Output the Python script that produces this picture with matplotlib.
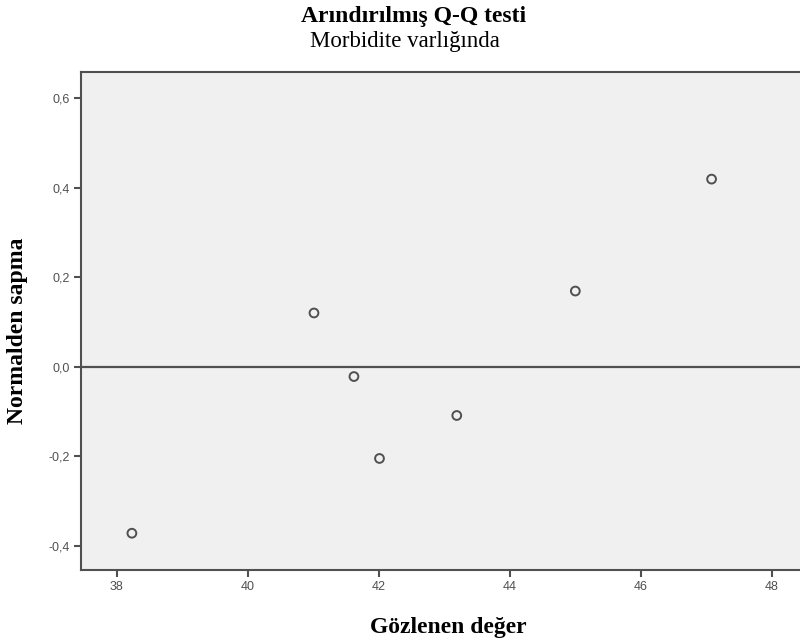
import matplotlib.pyplot as plt

# Gözlenen değer vs Normalden sapma
observed = [38.23, 41.01, 41.62, 42.01, 43.19, 45.0, 47.08]
deviation = [-0.372, 0.120, -0.022, -0.205, -0.109, 0.169, 0.419]
x_ticks = [38, 40, 42, 44, 46, 48]
y_ticks = [-0.4, -0.2, 0.0, 0.2, 0.4, 0.6]

serif = ['Liberation Serif', 'DejaVu Serif']
narrow = ['Liberation Sans Narrow', 'Liberation Sans', 'DejaVu Sans']
dark = '#505050'

fig = plt.figure(figsize=(8, 6.44), dpi=100)
ax = fig.add_axes([0.101, 0.115, 0.899, 0.773])
ax.set_facecolor('#f0f0f0')

ax.axhline(0, color=dark, linewidth=1.6, zorder=1)
ax.scatter(observed, deviation, s=40, facecolors='none', edgecolors=dark,
           linewidths=1.4, zorder=2)

ax.set_xlim(37.45, 48.43)
ax.set_ylim(-0.454, 0.658)
ax.set_xticks(x_ticks)
ax.set_yticks(y_ticks)
ax.set_yticklabels([('%.1f' % v).replace('.', ',') for v in y_ticks])
ax.set_xticklabels([str(v) for v in x_ticks])
ax.tick_params(axis='both', direction='out', length=5, width=1.5,
               color=dark, labelcolor=dark, labelsize=9, pad=3)
for lab in ax.get_xticklabels() + ax.get_yticklabels():
    lab.set_family(narrow)

for side in ['left', 'bottom', 'top']:
    ax.spines[side].set_color(dark)
    ax.spines[side].set_linewidth(1.5)
ax.spines['right'].set_visible(False)

fig.text(0.5175, 0.975, 'Arındırılmış Q-Q testi', ha='center', va='center',
         fontsize=17, fontweight='bold', family=serif)
fig.text(0.506, 0.936, 'Morbidite varlığında', ha='center', va='center',
         fontsize=16.5, family=serif)
fig.text(0.56, 0.026, 'Gözlenen değer', ha='center', va='center',
         fontsize=17, fontweight='bold', family=serif)
fig.text(0.0225, 0.486, 'Normalden sapma', ha='center', va='center',
         rotation=90, fontsize=17, fontweight='bold', family=serif)

plt.savefig('out.png', dpi=100)
